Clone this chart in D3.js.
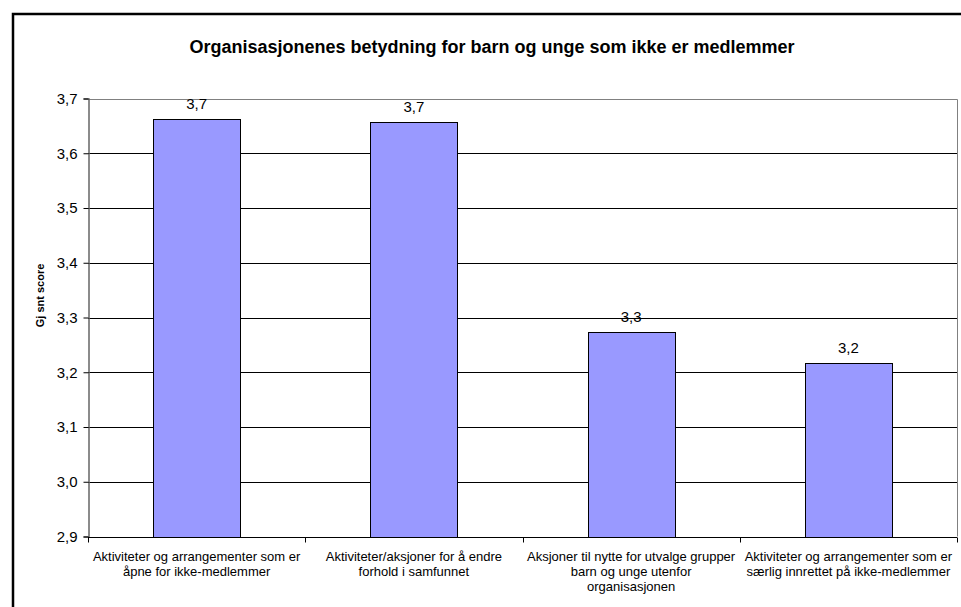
<!DOCTYPE html>
<html>
<head>
<meta charset="utf-8">
<script src="https://cdn.jsdelivr.net/npm/d3@7"></script>
<style>
  body { margin: 0; background: #fff; }
  svg { font-family: "Liberation Sans", Arimo, sans-serif; }
</style>
</head>
<body>
<div id="chart"></div>
<script>
// chart data
var categories = [
    ["Aktiviteter og arrangementer som er", "åpne for ikke-medlemmer"],
    ["Aktiviteter/aksjoner for å endre", "forhold i samfunnet"],
    ["Aksjoner til nytte for utvalge grupper", "barn og unge utenfor", "organisasjonen"],
    ["Aktiviteter og arrangementer som er", "særlig innrettet på ikke-medlemmer"]
];
var values = [3.662, 3.657, 3.274, 3.216];
var valueLabels = ["3,7", "3,7", "3,3", "3,2"];
var yTicks = [2.9, 3.0, 3.1, 3.2, 3.3, 3.4, 3.5, 3.6, 3.7];

var width = 961, height = 607;
var plot = {l: 88, r: 957, t: 98.5, b: 536.5};
var FONT = '"Liberation Sans", Arimo, sans-serif';

var svg = d3.select('#chart')
    .append('svg')
    .attr('width', width)
    .attr('height', height);

// outer chart frame
svg.append('rect')
    .attr('x', 13)
    .attr('y', 14)
    .attr('width', 960)
    .attr('height', 600)
    .attr('fill', 'none')
    .attr('stroke', '#000')
    .attr('stroke-width', 2.5);

var x = d3.scaleBand()
    .range([plot.l, plot.r])
    .domain(d3.range(categories.length));

var y = d3.scaleLinear()
    .range([plot.b, plot.t])
    .domain([2.9, 3.7]);

//gridlines
svg.append('g')
    .selectAll('line')
    .data(yTicks.slice(1, -1))
    .enter()
    .append('line')
    .attr('x1', plot.l)
    .attr('x2', plot.r)
    .attr('y1', function (d) { return Math.round(y(d)) + 0.5; })
    .attr('y2', function (d) { return Math.round(y(d)) + 0.5; })
    .attr('stroke', '#000')
    .attr('stroke-width', 1);

// plot area border (top + right, gray)
svg.append('path')
    .attr('d', 'M' + plot.l + ',' + (Math.round(plot.t) + 0.5) + 'H' + (plot.r + 0.5) + 'V' + plot.b)
    .attr('fill', 'none')
    .attr('stroke', '#808080')
    .attr('stroke-width', 1);

//bars
var barW = x.bandwidth() * 0.4;
svg.append('g')
    .selectAll('rect')
    .data(values)
    .enter()
    .append('rect')
    .attr('x', function (d, i) { return Math.round(x(i) + (x.bandwidth() - barW) / 2) + 0.5; })
    .attr('y', function (d) { return Math.round(y(d)) + 0.5; })
    .attr('width', Math.round(barW))
    .attr('height', function (d) { return Math.round(y(2.9)) - Math.round(y(d)); })
    .attr('fill', '#9999ff')
    .attr('stroke', '#000')
    .attr('stroke-width', 1);

// value labels
svg.append('g')
    .selectAll('text')
    .data(values)
    .enter()
    .append('text')
    .attr('x', function (d, i) { return x(i) + x.bandwidth() / 2; })
    .attr('y', function (d) { return y(d) - 10; })
    .attr('text-anchor', 'middle')
    .attr('font-size', '15px')
    .attr('fill', '#000')
    .text(function (d, i) { return valueLabels[i]; });

// y axis
var yAxis = svg.append('g')
    .attr('transform', 'translate(' + (plot.l + 0.5) + ',0)')
    .call(d3.axisLeft(y)
        .tickValues(yTicks)
        .tickSize(5)
        .tickPadding(6)
        .tickFormat(function (d) { return d3.format('.1f')(d).replace('.', ','); }));

yAxis.select('.domain').attr('stroke', '#666').attr('stroke-width', 1.5);
yAxis.selectAll('.tick line').attr('stroke', '#000');
yAxis.selectAll('text')
    .attr('font-size', '15px')
    .attr('font-family', FONT)
    .attr('fill', '#000');

// x axis
var xAxisG = svg.append('g')
    .attr('transform', 'translate(0,' + (Math.round(plot.b) + 0.5) + ')');

xAxisG.append('line')
    .attr('x1', plot.l)
    .attr('x2', plot.r)
    .attr('stroke', '#000');

xAxisG.selectAll('.tk')
    .data(d3.range(categories.length + 1))
    .enter()
    .append('line')
    .attr('class', 'tk')
    .attr('x1', function (d) { return Math.round(plot.l + d * x.step()) + 0.5; })
    .attr('x2', function (d) { return Math.round(plot.l + d * x.step()) + 0.5; })
    .attr('y1', 0)
    .attr('y2', 5)
    .attr('stroke', '#000');

var catLabels = xAxisG.selectAll('.cat')
    .data(categories)
    .enter()
    .append('text')
    .attr('class', 'cat')
    .attr('text-anchor', 'middle')
    .attr('font-size', '13px')
    .attr('fill', '#000');

catLabels.selectAll('tspan')
    .data(function (d, i) { return d.map(function (s) { return {s: s, i: i}; }); })
    .enter()
    .append('tspan')
    .attr('x', function (d) { return x(d.i) + x.bandwidth() / 2; })
    .attr('y', function (d, j) { return 23.5 + j * 15; })
    .text(function (d) { return d.s; });

// axis title
svg.append('text')
    .attr('transform', 'translate(44,' + ((plot.t + plot.b) / 2 - 22) + ') rotate(-90)')
    .attr('text-anchor', 'middle')
    .attr('font-size', '11px')
    .attr('font-weight', 'bold')
    .text('Gj snt score');

// chart title
svg.append('text')
    .attr('x', 492)
    .attr('y', 53)
    .attr('text-anchor', 'middle')
    .attr('font-size', '18px')
    .attr('font-weight', 'bold')
    .text('Organisasjonenes betydning for barn og unge som ikke er medlemmer');
</script>
</body>
</html>
